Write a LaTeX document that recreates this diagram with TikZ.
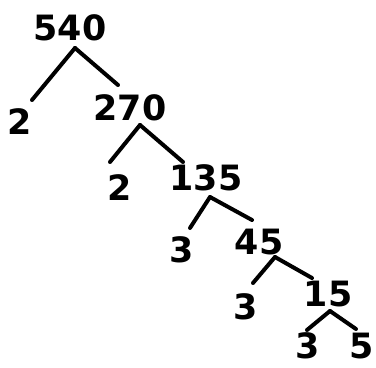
\documentclass[tikz,border=0pt]{standalone}
\usepackage{fontspec}
\setmainfont{DejaVu Sans}
\tikzset{
  num/.style={inner sep=0pt,font=\fontsize{35}{35}\selectfont\bfseries},
  branch/.style={line width=4pt,line cap=round,black},
}

\begin{document}
\begin{tikzpicture}[x=1bp,y=-1bp]
        \useasboundingbox (0,0) rectangle (376,368);
        % factors
        \foreach \n/\t/\x/\y in {n540/540/70/28,n2a/2/20/122,n270/270/130/108,n2b/2/120/188,
          n135/135/206/178,n3a/3/182/250,n45/45/259/242,n3b/3/246/307,n15/15/328/294,
          n3c/3/308/346,n5/5/362/346}{
          \node[num] (\n) at (\x,\y) {\t};
        }
        % branches (parent, start offset, child, end offset)
        \foreach \p/\px/\py/\c/\cx/\cy in {n540/5/20/n2a/12/-22,n540/5/20/n270/-12/-23,
          n270/10/17/n2b/-10/-26,n270/10/17/n135/-23/-16,
          n135/4/19/n3a/8/-22,n135/4/19/n45/-7/-22,
          n45/16/15/n3b/7/-24,n45/16/15/n15/-16/-16,
          n15/2/17/n3c/-1/-16,n15/2/17/n5/-6/-17}{
          \draw[branch] ([shift={(\px,\py)}]\p.center) -- ([shift={(\cx,\cy)}]\c.center);
        }
      \end{tikzpicture}
\end{document}
